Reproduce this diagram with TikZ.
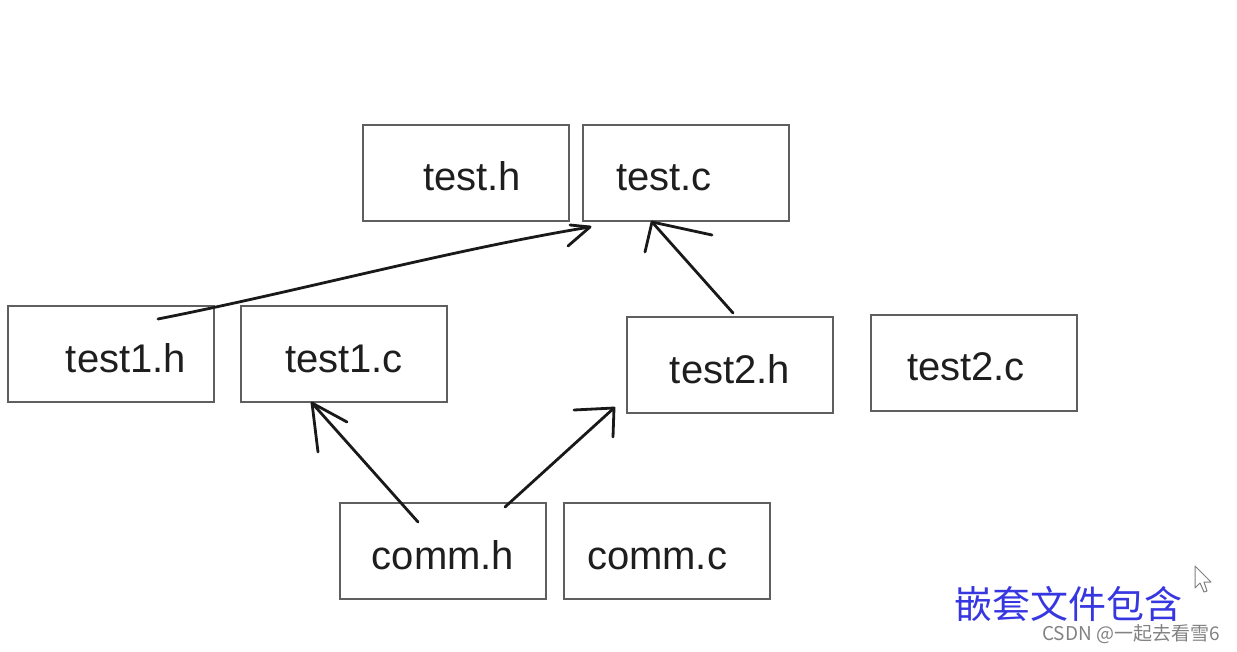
\documentclass[tikz,border=0pt]{standalone}
\usepackage{fontspec}
\setmainfont{Liberation Sans}
\newfontfamily\cjk{Noto Sans CJK SC}
\definecolor{boxgray}{RGB}{95,95,95}
\definecolor{txtcol}{RGB}{30,30,30}
\definecolor{cjkblue}{RGB}{55,55,225}
\definecolor{wmgray}{RGB}{130,130,130}
\tikzset{
  box/.style={draw=boxgray, line width=1.6pt, minimum width=206pt, minimum height=96pt,
    inner sep=0pt, text=txtcol, text height=36pt, text depth=0pt, font=\fontsize{40}{40}\selectfont},
  arr/.style={draw=black!90, line width=2.8pt, line cap=round, line join=round},
}
\begin{document}
\begin{tikzpicture}[x=1pt,y=-1pt]
\useasboundingbox (0,0) rectangle (1237,652);
% boxes
\node[box] (th)  at (466,173) {\hspace*{12pt}test.h};
\node[box] (tc)  at (686,173) {\hspace*{-44pt}test.c};
\node[box] (t1h) at (111,354) {\hspace*{30pt}test1.h};
\node[box] (t1c) at (344,354) {test1.c};
\node[box] (t2h) at (730,365) {test2.h};
\node[box] (t2c) at (974,363) {\hspace*{-16pt}test2.c};
\node[box] (ch)  at (443,551) {comm.h};
\node[box] (cc)  at (667,551) {\hspace*{-20pt}comm.c};
% connector end points
\coordinate (a1s) at (158,319);
\coordinate (a1t) at (590,227);
\coordinate (a2s) at (733,313);
\coordinate (a2t) at (652,222);
\coordinate (a3s) at (418,522);
\coordinate (a3t) at (312,403);
\coordinate (a4s) at (505,507);
\coordinate (a4t) at (614,408);
% arrow 1: test1.h -> test.c
\draw[arr] (a1s) .. controls (300,291) and (450,250) .. (a1t);
\draw[arr] (570,225) -- (a1t) -- (568,246);
% arrow 2: test2.h -> test.c
\draw[arr] (a2s) -- (a2t);
\draw[arr] (645,252) -- (a2t) -- (712,235);
% arrow 3: comm.h -> test1.c
\draw[arr] (a3s) -- (a3t);
\draw[arr] (318,452) -- (a3t) -- (347,422);
% arrow 4: comm.h -> test2.h
\draw[arr] (a4s) -- (a4t);
\draw[arr] (574,410) -- (a4t) -- (613,437);
% caption
\node[text=cjkblue, font=\cjk\fontsize{38}{38}\selectfont, inner sep=0pt] (cap) at (1068,604) {嵌套文件包含};
\node[text=wmgray, font=\cjk\fontsize{19}{19}\selectfont, inner sep=0pt] (wm) at (1131,634) {CSDN @一起去看雪6};
% mouse pointer
\draw[draw=gray, fill=white, line width=1pt, line join=round]
  (1195,566) -- (1195,588) -- (1200,583) -- (1204,592) -- (1207,591) -- (1204,582) -- (1211,582) -- cycle;
\end{tikzpicture}
\end{document}
